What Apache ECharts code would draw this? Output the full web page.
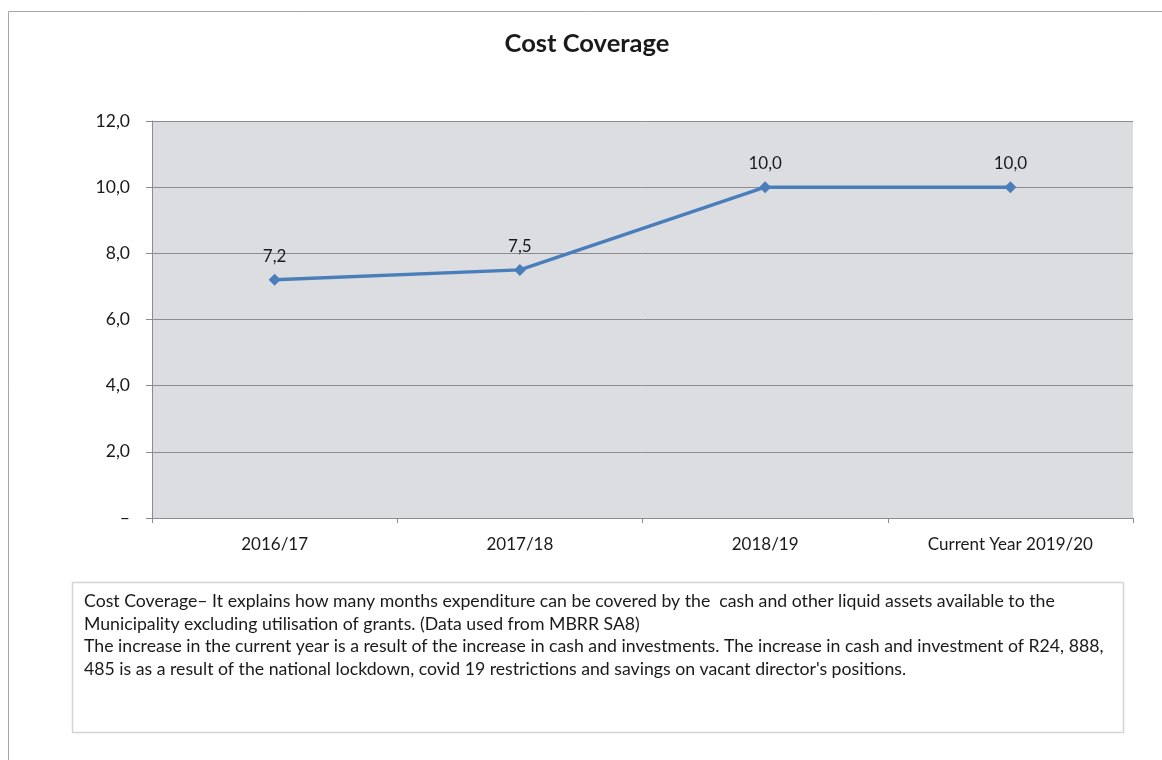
<!DOCTYPE html>
<html>
<head>
<meta charset="utf-8">
<title>Cost Coverage</title>
<script src="https://cdn.jsdelivr.net/npm/echarts@6/dist/echarts.min.js"></script>
<style>
  html, body { margin: 0; padding: 0; background: #ffffff; }
  #chart { width: 1162px; height: 760px; }
</style>
</head>
<body>
<div id="chart"></div>
<script>
// Chart data
const chartTitle = 'Cost Coverage';
const categories = ['2016/17', '2017/18', '2018/19', 'Current Year 2019/20'];
const costCoverage = [7.2, 7.5, 10.0, 10.0];
const yTicks = [0, 2, 4, 6, 8, 10, 12];

// Explanatory note below the chart, one entry per line
const noteLines = [
  'Cost Coverage\u2013 It explains how many months expenditure can be covered by the  cash and other liquid assets available to the',
  'Municipality excluding utilisation of grants. (Data used from MBRR SA8)',
  'The increase in the current year is a result of the increase in cash and investments. The increase in cash and investment of R24, 888,',
  "485 is as a result of the national lockdown, covid 19 restrictions and savings on vacant director's positions."
];

const FONT = 'Lato, "Open Sans", sans-serif';
const fmt = v => v === 0 ? '\u2013' : v.toFixed(1).replace('.', ',');

const chart = echarts.init(document.getElementById('chart'), null, { renderer: 'canvas' });

chart.setOption({
  animation: false,
  backgroundColor: '#ffffff',
  title: {
    text: chartTitle,
    left: 582,
    top: 26,
    textAlign: 'center',
    textStyle: { fontFamily: FONT, fontSize: 25.5, fontWeight: 'bold', color: '#1a1a1a' }
  },
  grid: {
    left: 152, top: 121, width: 981, height: 397,
    show: true,
    backgroundColor: '#dcdde0',
    borderWidth: 0
  },
  xAxis: {
    type: 'category',
    data: categories,
    boundaryGap: true,
    axisLine: { show: true, lineStyle: { color: '#8c8c8c', width: 1 } },
    axisTick: { show: true, alignWithLabel: false, length: 5, lineStyle: { color: '#8c8c8c' } },
    axisLabel: { margin: 18, fontFamily: FONT, fontSize: 17, color: '#1a1a1a' }
  },
  yAxis: {
    type: 'value',
    min: yTicks[0],
    max: yTicks[yTicks.length - 1],
    interval: 2,
    axisLine: { show: true, lineStyle: { color: '#8c8c8c', width: 1 } },
    axisTick: { show: true, length: 6, lineStyle: { color: '#8c8c8c' } },
    splitLine: { show: true, lineStyle: { color: '#8c8c8c', width: 1 } },
    axisLabel: { margin: 22, fontFamily: FONT, fontSize: 17.5, color: '#1a1a1a', formatter: fmt }
  },
  series: [{
    type: 'line',
    data: costCoverage,
    symbol: 'diamond',
    symbolSize: 12,
    lineStyle: { color: '#4a7ebb', width: 3.5 },
    itemStyle: { color: '#4a7ebb' },
    label: {
      show: true,
      position: 'top',
      distance: 9,
      fontFamily: FONT,
      fontSize: 17,
      color: '#1a1a1a',
      formatter: p => fmt(p.value)
    }
  }],
  graphic: [
    {
      type: 'rect',
      silent: true,
      shape: { x: 8.5, y: 11.5, width: 1300, height: 900 },
      style: { fill: null, stroke: '#a6a6a6', lineWidth: 1 }
    },
    {
      type: 'rect',
      silent: true,
      shape: { x: 72.5, y: 582.5, width: 1051, height: 150 },
      style: { fill: '#ffffff', stroke: '#d4d4d4', lineWidth: 1.5 }
    },
    {
      type: 'text',
      silent: true,
      left: 84,
      top: 590,
      style: {
        text: noteLines.join('\n'),
        fontFamily: FONT,
        fontSize: 17.7,
        lineHeight: 22.7,
        fill: '#1a1a1a'
      }
    }
  ]
});
</script>
</body>
</html>
